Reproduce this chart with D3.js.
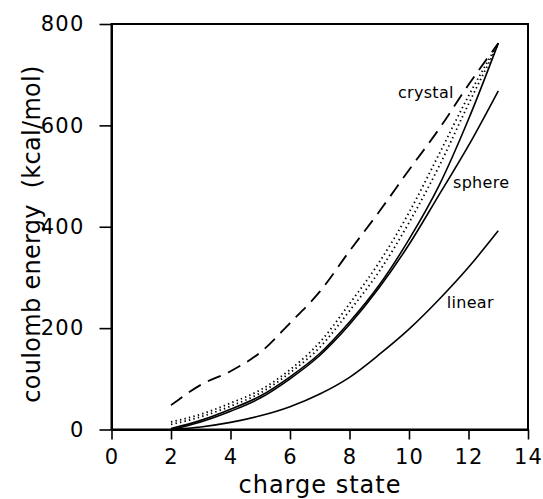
<!DOCTYPE html>
<html>
<head>
<meta charset="utf-8">
<script src="https://cdn.jsdelivr.net/npm/d3@7"></script>
<style>
  html, body { margin: 0; padding: 0; background: #fff; }
  svg text { font-family: "DejaVu Sans", sans-serif; fill: #000; }
</style>
</head>
<body>
<svg id="chart" width="543" height="499"></svg>
<script>
// ---- data ----
const charge = [2, 3, 4, 5, 6, 7, 8, 9, 10, 11, 12, 13];
const crystal = [48, 88, 115, 152, 210, 272, 352, 430, 512, 592, 680, 762];
const dottedA = [15, 30, 52, 78, 118, 172, 248, 330, 428, 542, 658, 762];
const dottedB = [10, 25, 46, 72, 112, 162, 234, 312, 408, 518, 642, 760];
const solidInner = [2, 18, 40, 66, 104, 150, 212, 285, 375, 480, 612, 762];
const sphere = [0, 15, 36, 62, 100, 146, 207, 280, 365, 462, 560, 668];
const linear = [0, 5, 14, 27, 45, 70, 103, 148, 198, 256, 320, 392];
const xTicks = [0, 2, 4, 6, 8, 10, 12, 14];
const yTicks = [0, 200, 400, 600, 800];
const curveLabels = [
  { text: "crystal", x: 9.63, y: 654 },
  { text: "sphere", x: 11.48, y: 476 },
  { text: "linear", x: 11.27, y: 240 }
];

const svg = d3.select("#chart");
const x = d3.scaleLinear().domain([0, 14]).range([111.5, 528]);
const y = d3.scaleLinear().domain([0, 800]).range([429.5, 24]);

// frame
svg.append("rect")
  .attr("x", x(0)).attr("y", y(800))
  .attr("width", x(14) - x(0)).attr("height", y(0) - y(800))
  .attr("fill", "none").attr("stroke", "#000").attr("stroke-width", 2);

// axes
const xAxis = svg.append("g").attr("transform", `translate(0,${y(0)})`)
  .call(d3.axisBottom(x).tickValues(xTicks).tickSize(10).tickSizeOuter(0).tickPadding(10).tickFormat(d3.format("d")));
const yAxis = svg.append("g").attr("transform", `translate(${x(0)},0)`)
  .call(d3.axisLeft(y).tickValues(yTicks).tickSize(12).tickSizeOuter(0).tickPadding(15).tickFormat(d3.format("d")));
[xAxis, yAxis].forEach(g => {
  g.select(".domain").attr("stroke-width", 2);
  g.selectAll(".tick line").attr("stroke-width", 1.6);
  g.selectAll(".tick text")
    .style("font-family", "DejaVu Sans, sans-serif")
    .style("font-size", "21px")
    .style("letter-spacing", "1.2px");
});

// axis titles
svg.append("text")
  .attr("x", 320).attr("y", 493)
  .attr("text-anchor", "middle")
  .style("font-size", "24px").style("letter-spacing", "1px")
  .text("charge state");
svg.append("text")
  .attr("transform", `translate(40,234) rotate(-90)`)
  .attr("text-anchor", "middle")
  .style("font-size", "24px").style("letter-spacing", "0.3px")
  .style("white-space", "pre")
  .text("coulomb energy  (kcal/mol)");

// curves
const line = d3.line()
  .x((d, i) => x(charge[i]))
  .y(d => y(d))
  .curve(d3.curveMonotoneX);

const series = [
  { v: linear, dash: null, w: 1.6 },
  { v: sphere, dash: null, w: 1.6 },
  { v: solidInner, dash: null, w: 1.6 },
  { v: dottedB, dash: "1.4,3.2", w: 1.8 },
  { v: dottedA, dash: "1.4,3.2", w: 1.8 },
  { v: crystal, dash: "14,8", w: 1.8 }
];
svg.append("g").selectAll("path").data(series).join("path")
  .attr("d", d => line(d.v))
  .attr("fill", "none")
  .attr("stroke", "#000")
  .attr("stroke-width", d => d.w)
  .attr("stroke-dasharray", d => d.dash);

// curve labels
svg.append("g").selectAll("text").data(curveLabels).join("text")
  .attr("x", d => x(d.x)).attr("y", d => y(d.y))
  .style("font-size", "16px").style("letter-spacing", "0.3px")
  .text(d => d.text);
</script>
</body>
</html>
